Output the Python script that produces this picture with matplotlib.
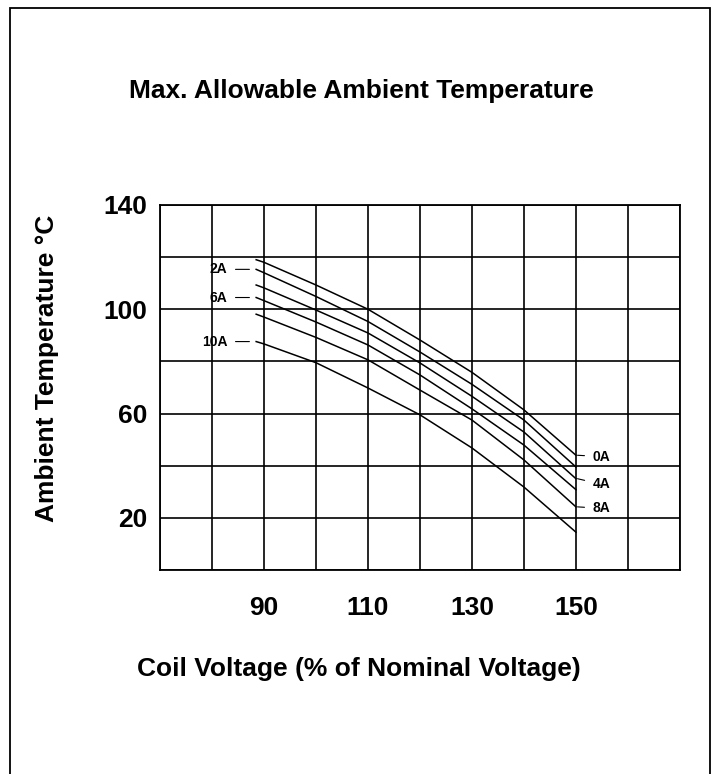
# Max. allowable ambient temperature vs coil voltage, one curve per contact current
import matplotlib.pyplot as plt
from matplotlib.patches import Rectangle

plt.rcParams['font.family'] = ['Liberation Sans', 'DejaVu Sans']

# values
volt = [88.5, 90, 100, 110, 120, 130, 140, 150]
t_0A = [119.0, 118.0, 109.3, 100.0, 88.2, 75.8, 61.4, 44.0]
t_2A = [115.3, 114.0, 104.9, 95.3, 83.6, 71.2, 57.5, 39.5]
t_4A = [109.3, 108.2, 99.7, 90.9, 79.4, 66.6, 52.9, 35.0]
t_6A = [104.5, 103.3, 95.1, 86.3, 74.8, 61.8, 47.9, 30.8]
t_8A = [98.1, 97.0, 89.2, 80.6, 69.0, 57.5, 42.2, 24.2]
t_10A = [87.6, 86.7, 79.5, 69.8, 59.5, 46.8, 31.8, 14.5]

curves = [('0A', t_0A), ('2A', t_2A), ('4A', t_4A),
          ('6A', t_6A), ('8A', t_8A), ('10A', t_10A)]
left_labels = ['2A', '6A', '10A']
right_labels = ['0A', '4A', '8A']

x_ticks = [90, 110, 130, 150]
y_ticks = [20, 60, 100, 140]

fig = plt.figure(figsize=(7.18, 7.74), dpi=100)
ax = fig.add_axes([0.2228, 0.2636, 0.7242, 0.4716])

# outer frame (open at the bottom)
fig.patches.append(Rectangle((10 / 718, -0.05), 700 / 718, 1.05 - 8 / 774,
                             transform=fig.transFigure, fill=False,
                             edgecolor='black', lw=1.3))

for name, temps in curves:
    ax.plot(volt, temps, color='black', lw=1.1)

lab_font = dict(fontsize=10, fontweight='bold')
for name, temps in curves:
    if name in left_labels:
        ax.annotate(name, xy=(volt[0] - 1.3, temps[0]), xytext=(-16, 0),
                    textcoords='offset points', ha='right', va='center',
                    arrowprops=dict(arrowstyle='-', lw=0.8, color='black',
                                    shrinkA=4, shrinkB=0), **lab_font)
    if name in right_labels:
        dy = -4 if name == '4A' else -1
        ax.annotate(name, xy=(volt[-1] + 0.3, temps[-1]), xytext=(11, dy),
                    textcoords='offset points', ha='left', va='center',
                    arrowprops=dict(arrowstyle='-', lw=0.8, color='black',
                                    shrinkA=4, shrinkB=0), **lab_font)

ax.set_xlim(70, 170)
ax.set_ylim(0, 140)
ax.set_xticks(range(70, 171, 10), minor=True)
ax.set_yticks(range(0, 141, 20), minor=True)
ax.set_xticks(x_ticks)
ax.set_yticks(y_ticks)
ax.grid(True, which='both', color='black', lw=1.2)
ax.tick_params(which='both', length=0)
ax.tick_params(axis='x', pad=19, labelsize=19)
ax.tick_params(axis='y', pad=9, labelsize=19)
for lbl in ax.get_xticklabels() + ax.get_yticklabels():
    lbl.set_fontweight('bold')
for sp in ax.spines.values():
    sp.set_linewidth(1.3)

ax.set_xlabel('Coil Voltage (% of Nominal Voltage)', fontsize=19, fontweight='bold',
              va='center')
ax.xaxis.set_label_coords(0.383, -0.27)
ax.set_ylabel('Ambient Temperature \u00b0C', fontsize=19, fontweight='bold', va='center')
ax.yaxis.set_label_coords(-0.217, 0.552)
ax.text(0.387, 1.312, 'Max. Allowable Ambient Temperature', transform=ax.transAxes,
        ha='center', va='center', fontsize=19, fontweight='bold')

fig.savefig('out.png', dpi=100)
